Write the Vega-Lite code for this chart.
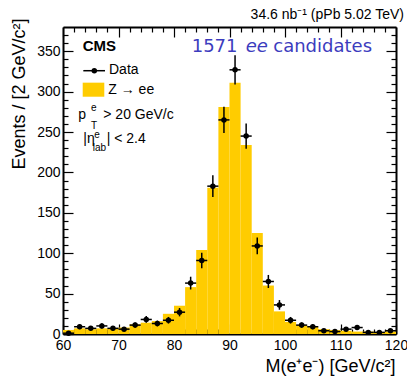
{
  "$schema": "https://vega.github.io/schema/vega-lite/v6.json",
  "width": 333,
  "height": 307,
  "autosize": {"type": "none"},
  "padding": {"left": 63, "top": 27, "right": 11, "bottom": 42},
  "background": "white",
  "title": {"text": "34.6 nb⁻¹ (pPb 5.02 TeV)", "anchor": "end", "frame": "group", "dx": 8, "offset": -15, "baseline": "alphabetic", "fontSize": 14, "fontWeight": "normal", "font": "Liberation Sans", "color": "black"},
  "data": {"values": [
    {"m0": 60, "m1": 62, "m": 61, "mc": 5, "n": 1, "elo": 0, "ehi": 2},
    {"m0": 62, "m1": 64, "m": 63, "mc": 7, "n": 9, "elo": 6, "ehi": 12},
    {"m0": 64, "m1": 66, "m": 65, "mc": 6, "n": 7, "elo": 4.4, "ehi": 9.6},
    {"m0": 66, "m1": 68, "m": 67, "mc": 7, "n": 10, "elo": 6.8, "ehi": 13.2},
    {"m0": 68, "m1": 70, "m": 69, "mc": 7, "n": 7, "elo": 4.4, "ehi": 9.6},
    {"m0": 70, "m1": 72, "m": 71, "mc": 8, "n": 6, "elo": 3.6, "ehi": 8.4},
    {"m0": 72, "m1": 74, "m": 73, "mc": 12, "n": 11, "elo": 7.7, "ehi": 14.3},
    {"m0": 74, "m1": 76, "m": 75, "mc": 14, "n": 18, "elo": 13.8, "ehi": 22.2},
    {"m0": 76, "m1": 78, "m": 77, "mc": 16, "n": 13, "elo": 9.4, "ehi": 16.6},
    {"m0": 78, "m1": 80, "m": 79, "mc": 25, "n": 17, "elo": 12.9, "ehi": 21.1},
    {"m0": 80, "m1": 82, "m": 81, "mc": 35, "n": 27, "elo": 21.8, "ehi": 32.2},
    {"m0": 82, "m1": 84, "m": 83, "mc": 58, "n": 63, "elo": 55.1, "ehi": 70.9},
    {"m0": 84, "m1": 86, "m": 85, "mc": 104, "n": 91, "elo": 81.5, "ehi": 100.5},
    {"m0": 86, "m1": 88, "m": 87, "mc": 181, "n": 183, "elo": 169.5, "ehi": 196.5},
    {"m0": 88, "m1": 90, "m": 89, "mc": 281, "n": 265, "elo": 248.7, "ehi": 281.3},
    {"m0": 90, "m1": 92, "m": 91, "mc": 311, "n": 327, "elo": 308.9, "ehi": 345.1},
    {"m0": 92, "m1": 94, "m": 93, "mc": 234, "n": 245, "elo": 229.3, "ehi": 260.7},
    {"m0": 94, "m1": 96, "m": 95, "mc": 125, "n": 109, "elo": 98.6, "ehi": 119.4},
    {"m0": 96, "m1": 98, "m": 97, "mc": 60, "n": 65, "elo": 56.9, "ehi": 73.1},
    {"m0": 98, "m1": 100, "m": 99, "mc": 28, "n": 36, "elo": 30, "ehi": 42},
    {"m0": 100, "m1": 102, "m": 101, "mc": 15, "n": 17, "elo": 12.9, "ehi": 21.1},
    {"m0": 102, "m1": 104, "m": 103, "mc": 11, "n": 11, "elo": 7.7, "ehi": 14.3},
    {"m0": 104, "m1": 106, "m": 105, "mc": 9, "n": 9, "elo": 6, "ehi": 12},
    {"m0": 106, "m1": 108, "m": 107, "mc": 6, "n": 4, "elo": 2, "ehi": 6},
    {"m0": 108, "m1": 110, "m": 109, "mc": 5, "n": 3, "elo": 1.3, "ehi": 4.7},
    {"m0": 110, "m1": 112, "m": 111, "mc": 4, "n": 6, "elo": 3.6, "ehi": 8.4},
    {"m0": 112, "m1": 114, "m": 113, "mc": 3, "n": 8, "elo": 5.2, "ehi": 10.8},
    {"m0": 114, "m1": 116, "m": 115, "mc": 3, "n": 2, "elo": 0.6, "ehi": 3.4},
    {"m0": 116, "m1": 118, "m": 117, "mc": 2, "n": 2, "elo": 0.6, "ehi": 3.4},
    {"m0": 118, "m1": 120, "m": 119, "mc": 3, "n": 4, "elo": 2, "ehi": 6}
  ]},
  "resolve": {"axis": {"x": "independent", "y": "independent"}},
  "layer": [
    {
      "mark": {"type": "bar", "binSpacing": 0, "stroke": null, "color": "#FFCC00"},
      "encoding": {
        "x": {"field": "m0", "type": "quantitative", "scale": {"domain": [60, 120], "nice": false, "zero": false},
          "axis": {"orient": "bottom", "values": [60,62,64,66,68,70,72,74,76,78,80,82,84,86,88,90,92,94,96,98,100,102,104,106,108,110,112,114,116,118,120],
            "labelExpr": "datum.value % 10 === 0 ? datum.label : ''",
            "tickDash": {"condition": {"test": "datum.value % 10 === 0", "value": [20, 1]}, "value": [5, 30]},
            "labelPadding": 14,
            "title": "M(e⁺e⁻) [GeV/c²]", "titleAlign": "right", "titleAnchor": "end", "titleX": 332, "titleY": 37, "titleBaseline": "alphabetic", "titleAngle": 0}},
        "x2": {"field": "m1"},
        "y": {"field": "mc", "type": "quantitative", "scale": {"domain": [0, 380], "nice": false, "zero": true},
          "axis": {"orient": "left", "values": [0,10,20,30,40,50,60,70,80,90,100,110,120,130,140,150,160,170,180,190,200,210,220,230,240,250,260,270,280,290,300,310,320,330,340,350,360,370],
            "labelExpr": "datum.value % 50 === 0 ? datum.label : ''",
            "tickDash": {"condition": {"test": "datum.value % 50 === 0", "value": [20, 1]}, "value": [5, 30]},
            "labelPadding": 13,
            "title": "Events / [2 GeV/c²]", "titleAngle": -90, "titleAlign": "right", "titleAnchor": "end", "titleX": -39, "titleY": -9, "titleBaseline": "alphabetic"}},
        "y2": {"datum": 0}
      }
    },
    {
      "mark": {"type": "rule", "strokeWidth": 1.5, "color": "black"},
      "encoding": {
        "x": {"field": "m", "type": "quantitative", "scale": {"domain": [60, 120], "nice": false, "zero": false},
          "axis": {"orient": "top", "values": [60,62,64,66,68,70,72,74,76,78,80,82,84,86,88,90,92,94,96,98,100,102,104,106,108,110,112,114,116,118,120],
            "labels": false, "title": null,
            "tickDash": {"condition": {"test": "datum.value % 10 === 0", "value": [20, 1]}, "value": [5, 30]}}},
        "y": {"field": "elo", "type": "quantitative", "scale": {"domain": [0, 380], "nice": false, "zero": true},
          "axis": {"orient": "right", "values": [0,10,20,30,40,50,60,70,80,90,100,110,120,130,140,150,160,170,180,190,200,210,220,230,240,250,260,270,280,290,300,310,320,330,340,350,360,370],
            "labels": false, "title": null,
            "tickDash": {"condition": {"test": "datum.value % 50 === 0", "value": [20, 1]}, "value": [5, 30]}}},
        "y2": {"field": "ehi"}
      }
    },
    {
      "mark": {"type": "rule", "strokeWidth": 1.5, "color": "black"},
      "encoding": {
        "x": {"field": "m0", "type": "quantitative", "axis": null},
        "x2": {"field": "m1"},
        "y": {"field": "n", "type": "quantitative", "axis": null}
      }
    },
    {
      "mark": {"type": "point", "filled": true, "size": 30, "opacity": 1, "color": "black"},
      "encoding": {
        "x": {"field": "m", "type": "quantitative", "axis": null},
        "y": {"field": "n", "type": "quantitative", "axis": null}
      }
    },
    {
      "data": {"values": [{}]},
      "mark": {"type": "rule", "strokeWidth": 1.5, "color": "black"},
      "encoding": {"x": {"datum": 63.66, "type": "quantitative", "axis": null}, "x2": {"datum": 67.57}, "y": {"datum": 325.9, "type": "quantitative", "axis": null}}
    },
    {
      "data": {"values": [{}]},
      "mark": {"type": "point", "filled": true, "size": 30, "opacity": 1, "color": "black"},
      "encoding": {"x": {"datum": 65.64, "type": "quantitative", "axis": null}, "y": {"datum": 325.9, "type": "quantitative", "axis": null}}
    },
    {
      "data": {"values": [{}]},
      "mark": {"type": "rect", "color": "#FFCC00"},
      "encoding": {"x": {"datum": 63.55, "type": "quantitative", "axis": null}, "x2": {"datum": 67.44}, "y": {"datum": 311.1, "type": "quantitative", "axis": null}, "y2": {"datum": 293.7}}
    },
    {
      "data": {"values": [{}]},
      "mark": {"type": "text", "align": "left", "baseline": "alphabetic", "font": "Liberation Sans", "fontSize": 14, "color": "black"},
      "encoding": {"x": {"datum": 68.29, "type": "quantitative", "axis": null}, "y": {"datum": 321.4, "type": "quantitative", "axis": null}, "text": {"value": "Data"}}
    },
    {
      "data": {"values": [{}]},
      "mark": {"type": "text", "align": "left", "baseline": "alphabetic", "font": "Liberation Sans", "fontSize": 14, "color": "black"},
      "encoding": {"x": {"datum": 68.16, "type": "quantitative", "axis": null}, "y": {"datum": 297.1, "type": "quantitative", "axis": null}, "text": {"value": "Z → ee"}}
    },
    {
      "data": {"values": [{}]},
      "mark": {"type": "text", "align": "left", "baseline": "alphabetic", "font": "Liberation Sans", "fontSize": 15, "fontWeight": "bold", "color": "black"},
      "encoding": {"x": {"datum": 63.55, "type": "quantitative", "axis": null}, "y": {"datum": 350.7, "type": "quantitative", "axis": null}, "text": {"value": "CMS"}}
    },
    {
      "data": {"values": [{}]},
      "mark": {"type": "text", "align": "left", "baseline": "alphabetic", "font": "DejaVu Sans", "fontSize": 18, "color": "#3C3CBE"},
      "encoding": {"x": {"datum": 83.19, "type": "quantitative", "axis": null}, "y": {"datum": 349.4, "type": "quantitative", "axis": null}, "text": {"value": "1571"}}
    },
    {
      "data": {"values": [{}]},
      "mark": {"type": "text", "align": "left", "baseline": "alphabetic", "font": "DejaVu Sans", "fontSize": 18, "fontStyle": "italic", "color": "#3C3CBE"},
      "encoding": {"x": {"datum": 92.92, "type": "quantitative", "axis": null}, "y": {"datum": 349.4, "type": "quantitative", "axis": null}, "text": {"value": "ee"}}
    },
    {
      "data": {"values": [{}]},
      "mark": {"type": "text", "align": "left", "baseline": "alphabetic", "font": "DejaVu Sans", "fontSize": 18, "color": "#3C3CBE"},
      "encoding": {"x": {"datum": 97.89, "type": "quantitative", "axis": null}, "y": {"datum": 349.4, "type": "quantitative", "axis": null}, "text": {"value": "candidates"}}
    },
    {
      "data": {"values": [{}]},
      "mark": {"type": "text", "align": "left", "baseline": "alphabetic", "font": "Liberation Sans", "fontSize": 14, "color": "black"},
      "encoding": {"x": {"datum": 62.76, "type": "quantitative", "axis": null}, "y": {"datum": 266.1, "type": "quantitative", "axis": null}, "text": {"value": "p"}}
    },
    {
      "data": {"values": [{}]},
      "mark": {"type": "text", "align": "left", "baseline": "alphabetic", "font": "Liberation Sans", "fontSize": 10, "color": "black"},
      "encoding": {"x": {"datum": 65.05, "type": "quantitative", "axis": null}, "y": {"datum": 276.0, "type": "quantitative", "axis": null}, "text": {"value": "e"}}
    },
    {
      "data": {"values": [{}]},
      "mark": {"type": "text", "align": "left", "baseline": "alphabetic", "font": "Liberation Sans", "fontSize": 10, "color": "black"},
      "encoding": {"x": {"datum": 65.05, "type": "quantitative", "axis": null}, "y": {"datum": 253.7, "type": "quantitative", "axis": null}, "text": {"value": "T"}}
    },
    {
      "data": {"values": [{}]},
      "mark": {"type": "text", "align": "left", "baseline": "alphabetic", "font": "Liberation Sans", "fontSize": 14, "color": "black"},
      "encoding": {"x": {"datum": 67.26, "type": "quantitative", "axis": null}, "y": {"datum": 266.1, "type": "quantitative", "axis": null}, "text": {"value": "> 20 GeV/c"}}
    },
    {
      "data": {"values": [{}]},
      "mark": {"type": "text", "align": "left", "baseline": "alphabetic", "font": "Liberation Sans", "fontSize": 14, "color": "black"},
      "encoding": {"x": {"datum": 63.66, "type": "quantitative", "axis": null}, "y": {"datum": 236.4, "type": "quantitative", "axis": null}, "text": {"value": "|η"}}
    },
    {
      "data": {"values": [{}]},
      "mark": {"type": "text", "align": "left", "baseline": "alphabetic", "font": "Liberation Sans", "fontSize": 10, "color": "black"},
      "encoding": {"x": {"datum": 65.64, "type": "quantitative", "axis": null}, "y": {"datum": 242.6, "type": "quantitative", "axis": null}, "text": {"value": "e"}}
    },
    {
      "data": {"values": [{}]},
      "mark": {"type": "text", "align": "left", "baseline": "alphabetic", "font": "Liberation Sans", "fontSize": 10, "color": "black"},
      "encoding": {"x": {"datum": 65.35, "type": "quantitative", "axis": null}, "y": {"datum": 226.5, "type": "quantitative", "axis": null}, "text": {"value": "lab"}}
    },
    {
      "data": {"values": [{}]},
      "mark": {"type": "text", "align": "left", "baseline": "alphabetic", "font": "Liberation Sans", "fontSize": 14, "color": "black"},
      "encoding": {"x": {"datum": 67.87, "type": "quantitative", "axis": null}, "y": {"datum": 236.4, "type": "quantitative", "axis": null}, "text": {"value": "| < 2.4"}}
    }
  ],
  "config": {
    "view": {"stroke": null},
    "axis": {"tickSize": -10, "tickColor": "black", "tickWidth": 1.2, "domain": true, "domainColor": "black", "domainWidth": 2, "grid": false,
      "labelFont": "Liberation Sans", "labelFontSize": 14, "labelColor": "black", "labelOverlap": false, "labelFlush": false,
      "titleFont": "Liberation Sans", "titleFontSize": 18, "titleFontWeight": "normal", "titleColor": "black", "zindex": 1}
  }
}
